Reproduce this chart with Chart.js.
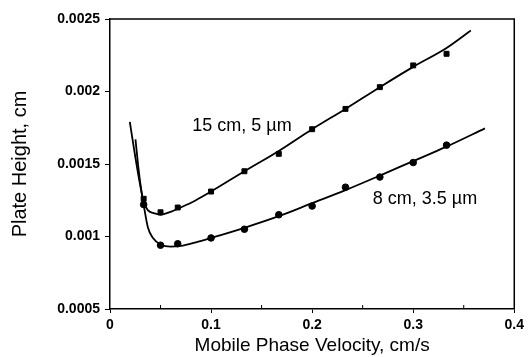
<!DOCTYPE html>
<html>
<head>
<meta charset="utf-8">
<script src="https://cdn.jsdelivr.net/npm/chart.js@4/dist/chart.umd.min.js"></script>
<style>
  html, body { margin: 0; padding: 0; background: #fff; }
  #wrap { width: 528px; height: 357px; }
</style>
</head>
<body>
<div id="wrap"><canvas id="chartPlate"></canvas></div>
<script>
// measured points, 15 cm column / 5 um particles
const velocity15 = [0.0333, 0.05, 0.067, 0.1, 0.133, 0.167, 0.2, 0.233, 0.267, 0.3, 0.333];
const plate15 = [0.00126, 0.001167, 0.0012, 0.00131, 0.00145, 0.00157, 0.00174, 0.00188, 0.00203, 0.00218, 0.00226];

// measured points, 8 cm column / 3.5 um particles
const velocity8 = [0.0333, 0.05, 0.067, 0.1, 0.133, 0.167, 0.2, 0.233, 0.267, 0.3, 0.333];
const plate8 = [0.00122, 0.00094, 0.00095, 0.00099, 0.00105, 0.00115, 0.00121, 0.00134, 0.00141, 0.00151, 0.00163];

// fitted curves
const fitX15 = [0.0196, 0.025, 0.03, 0.0333, 0.0376, 0.044, 0.05, 0.06, 0.07, 0.085, 0.1, 0.133, 0.167, 0.2, 0.233, 0.267, 0.3, 0.333, 0.357];
const fitH15 = [0.00179, 0.00155, 0.00135, 0.00124, 0.00118, 0.00116, 0.00115, 0.00117, 0.00120, 0.00125, 0.00131, 0.00145, 0.00159, 0.00174, 0.00188, 0.00203, 0.00217, 0.0023, 0.00242];
const fitX8 = [0.0252, 0.028, 0.0305, 0.0333, 0.0376, 0.0425, 0.05, 0.06, 0.07, 0.085, 0.1, 0.133, 0.167, 0.2, 0.233, 0.267, 0.3, 0.333, 0.371];
const fitH8 = [0.00167, 0.00148, 0.00134, 0.00122, 0.00106, 0.00099, 0.000945, 0.00093, 0.000935, 0.00096, 0.00099, 0.00106, 0.00114, 0.00123, 0.00132, 0.00142, 0.00152, 0.00162, 0.001746];

const xTicks = [0, 0.1, 0.2, 0.3, 0.4];
const xMinorTicks = [0.05, 0.15, 0.25, 0.35];
const yTicks = [0.0005, 0.001, 0.0015, 0.002, 0.0025];

const curveLabels = [
    { text: '15 cm, 5 \u00b5m', x: 0.0814, y: 0.001762 },
    { text: '8 cm, 3.5 \u00b5m', x: 0.26, y: 0.001259 }
];

const pts = (xs, ys) => xs.map((x, i) => ({ x: x, y: ys[i] }));

const fuente = 'Liberation Sans, Arial, sans-serif';

// frame, minor ticks and curve labels
const extras = {
    id: 'extras',
    afterDraw(chart) {
        const ctx = chart.ctx;
        const a = chart.chartArea;
        const sx = chart.scales.x;
        const sy = chart.scales.y;
        ctx.save();
        ctx.strokeStyle = '#000';
        ctx.lineWidth = 1.5;
        ctx.beginPath();
        ctx.moveTo(a.left, a.top);
        ctx.lineTo(a.right, a.top);
        ctx.lineTo(a.right, a.bottom);
        ctx.stroke();
        ctx.lineWidth = 1;
        xMinorTicks.forEach(v => {
            const px = sx.getPixelForValue(v);
            ctx.beginPath();
            ctx.moveTo(px, a.bottom);
            ctx.lineTo(px, a.bottom - 4);
            ctx.stroke();
        });
        ctx.fillStyle = '#000';
        ctx.font = '18px ' + fuente;
        ctx.textBaseline = 'middle';
        ctx.textAlign = 'left';
        curveLabels.forEach(l => {
            ctx.fillText(l.text, sx.getPixelForValue(l.x), sy.getPixelForValue(l.y));
        });
        ctx.restore();
    }
};

const canvas = document.getElementById('chartPlate');
const context = canvas.getContext('2d');

const chartPlate = new Chart(context, {
    type: 'scatter',
    data: {
        datasets: [
            {
                label: 'fit 15 cm',
                data: pts(fitX15, fitH15),
                showLine: true,
                borderColor: '#000',
                borderWidth: 1.8,
                pointRadius: 0,
                cubicInterpolationMode: 'monotone'
            },
            {
                label: 'fit 8 cm',
                data: pts(fitX8, fitH8),
                showLine: true,
                borderColor: '#000',
                borderWidth: 1.8,
                pointRadius: 0,
                cubicInterpolationMode: 'monotone'
            },
            {
                label: '15 cm, 5 um',
                data: pts(velocity15, plate15),
                pointStyle: 'rect',
                pointRadius: 3.5,
                backgroundColor: '#000',
                borderColor: '#000'
            },
            {
                label: '8 cm, 3.5 um',
                data: pts(velocity8, plate8),
                pointStyle: 'circle',
                pointRadius: 3.3,
                backgroundColor: '#000',
                borderColor: '#000'
            }
        ]
    },
    options: {
        responsive: true,
        maintainAspectRatio: false,
        animation: false,
        layout: { padding: { top: 19, right: 10, left: 0, bottom: 0 } },
        plugins: {
            legend: { display: false },
            tooltip: { enabled: false }
        },
        scales: {
            x: {
                type: 'linear',
                min: 0,
                max: 0.4,
                afterBuildTicks: s => { s.ticks = xTicks.map(v => ({ value: v })); },
                afterFit: s => { s.height = 48; },
                grid: { drawOnChartArea: false, tickLength: 4, color: '#000' },
                border: { color: '#000', width: 1.5 },
                ticks: {
                    color: '#000',
                    padding: 4,
                    maxRotation: 0,
                    font: { family: fuente, size: 14, weight: 'bold' },
                    callback: v => String(+v.toFixed(2))
                },
                title: {
                    display: true,
                    text: 'Mobile Phase Velocity, cm/s',
                    color: '#000',
                    font: { family: fuente, size: 19 },
                    padding: { top: 0, bottom: 0 }
                }
            },
            y: {
                type: 'linear',
                min: 0.0005,
                max: 0.0025,
                afterBuildTicks: s => { s.ticks = yTicks.map(v => ({ value: v })); },
                afterFit: s => { s.width = 110; },
                grid: { drawOnChartArea: false, tickLength: 5, color: '#000' },
                border: { color: '#000', width: 1.5 },
                ticks: {
                    color: '#000',
                    padding: 5,
                    font: { family: fuente, size: 14, weight: 'bold' },
                    callback: v => String(+v.toFixed(4))
                },
                title: {
                    display: true,
                    text: 'Plate Height, cm',
                    color: '#000',
                    font: { family: fuente, size: 20 },
                    padding: { top: 8, bottom: 0 }
                }
            }
        }
    },
    plugins: [extras]
});
</script>
</body>
</html>
